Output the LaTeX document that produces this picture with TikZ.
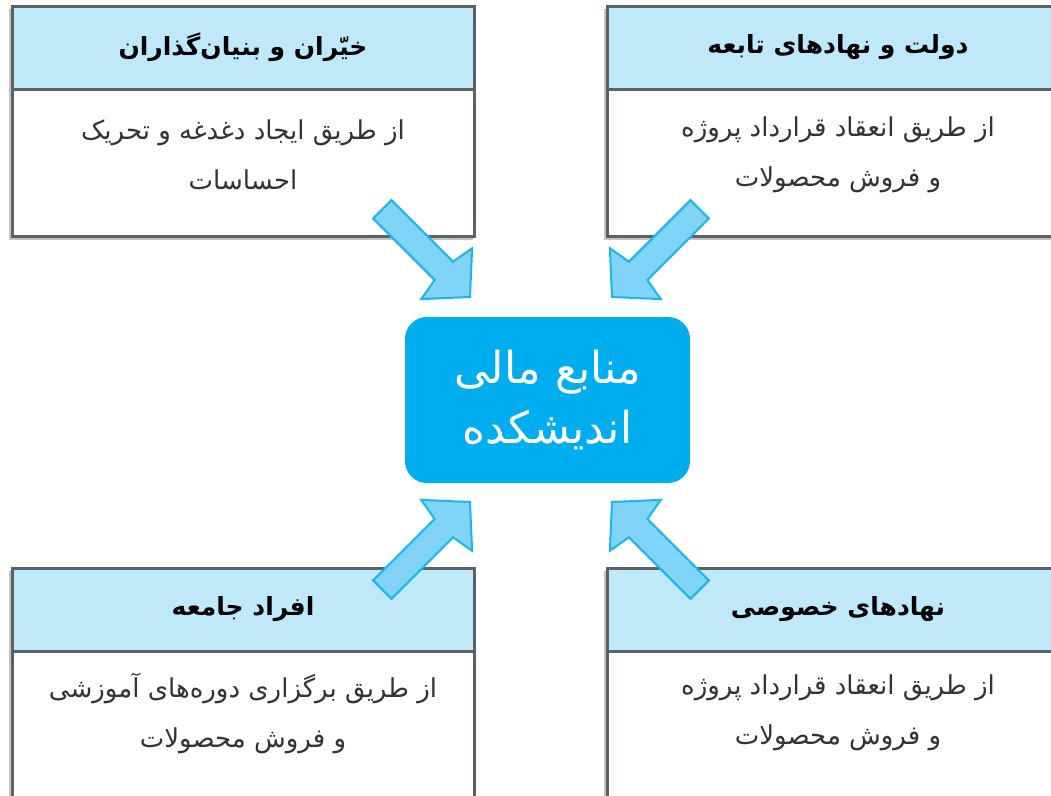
\documentclass[tikz,border=0pt]{standalone}
\usepackage{fontspec}
\newfontfamily\arabicfont[Script=Arabic]{DejaVu Sans}
\TeXXeTstate=1
\definecolor{boxline}{HTML}{5A6266}
\definecolor{hdrfill}{HTML}{BFE9F9}
\definecolor{shadowc}{HTML}{C4C4C4}
\definecolor{bodytext}{HTML}{333333}
\definecolor{ctrfill}{HTML}{00AEEF}
\definecolor{arrfill}{HTML}{7FD4F7}
\definecolor{arredge}{HTML}{1CB5EE}
\tikzset{
  hdr/.style={draw=boxline, line width=3pt, fill=hdrfill, minimum width=462pt, minimum height=83pt, inner sep=0pt, outer sep=0pt, font=\arabicfont\bfseries\fontsize{25}{30}\selectfont, text=black},
  bodybox/.style={draw=boxline, line width=3pt, fill=white, minimum width=462pt, minimum height=147pt, inner sep=0pt, outer sep=0pt, anchor=north},
  bodytxt/.style={font=\arabicfont\fontsize{26}{50}\selectfont, text=bodytext, align=center, inner sep=0pt},
  ctr/.style={fill=ctrfill, rounded corners=22pt, minimum width=285pt, minimum height=166pt, text=white, align=center, inner sep=0pt, font=\arabicfont\fontsize{44}{60}\selectfont},
  barrow/.style={fill=arrfill, draw=arredge, line width=2pt, line join=miter}
}
\newcommand\blockarrow[3]{%
  \begin{scope}[shift={(#1,#2)},rotate=#3]
    \draw[barrow] (0,0) -- (-33,-36) -- (-37,-13) -- (-124,-13) -- (-124,13) -- (-37,13) -- (-33,36) -- cycle;
  \end{scope}}
\begin{document}
\begin{tikzpicture}[x=1pt,y=-1pt]
\useasboundingbox (0,0) rectangle (1051,795);
\clip (0,0) rectangle (1051,795);
\fill[white] (0,0) rectangle (1051,795);

% shadows
\fill[shadowc] (9,9) rectangle (473,240);
\fill[shadowc] (604,9) rectangle (1068,240);
\fill[shadowc] (9,571) rectangle (473,800);
\fill[shadowc] (604,571) rectangle (1068,800);

% top-left
\coordinate (tltop) at (243,89);
\node[bodybox] (tlb) at (tltop) {};
\node[hdr] (tlh) at (243,47.5) {\beginR خیّران و بنیان‌گذاران\endR};
\node[bodytxt] (tlt) at (243,155) {\beginR از طریق ایجاد دغدغه و تحریک\endR\\\beginR احساسات\endR};

% top-right
\coordinate (trtop) at (838,89);
\node[bodybox] (trb) at (trtop) {};
\node[hdr] (trh) at (838,47.5) {\beginR دولت و نهادهای تابعه\endR};
\node[bodytxt] (trt) at (838,155) {\beginR از طریق انعقاد قرارداد پروژه\endR\\\beginR و فروش محصولات\endR};

% bottom-left
\coordinate (bltop) at (243,651);
\node[bodybox] (blb) at (bltop) {};
\node[hdr] (blh) at (243,609.5) {\beginR افراد جامعه\endR};
\node[bodytxt] (blt) at (243,713) {\beginR از طریق برگزاری دوره‌های آموزشی\endR\\\beginR و فروش محصولات\endR};

% bottom-right
\coordinate (brtop) at (838,651);
\node[bodybox] (brb) at (brtop) {};
\node[hdr] (brh) at (838,609.5) {\beginR نهادهای خصوصی\endR};
\node[bodytxt] (brt) at (838,713) {\beginR از طریق انعقاد قرارداد پروژه\endR\\\beginR و فروش محصولات\endR};

% centre
\node[ctr] (c) at (547.5,400) {\beginR منابع مالی\endR\\\beginR اندیشکده\endR};

% arrows
\blockarrow{470}{297}{-45}
\blockarrow{612}{297}{-135}
\blockarrow{470}{502}{45}
\blockarrow{612}{502}{135}
\end{tikzpicture}
\end{document}
